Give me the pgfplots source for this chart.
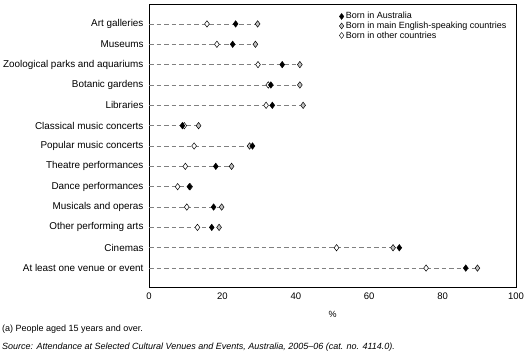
\documentclass[border=0pt]{standalone}
\usepackage{pgfplots}
\pgfplotsset{compat=1.18}
\usepackage{fontspec}
\setmainfont{Liberation Sans}
\definecolor{dashgray}{RGB}{128,128,128}
\definecolor{mgray}{RGB}{192,192,192}
\begin{document}
\begin{tikzpicture}[font=\fontsize{9}{10}\selectfont]
\path[use as bounding box] (0,0) rectangle (529pt,363pt);
\begin{axis}[
  at={(149pt,76pt)}, anchor=south west,
  scale only axis, width=367pt, height=283pt,
  xmin=0, xmax=100, ymin=-0.98, ymax=12.93, y dir=reverse,
  xtick={0,20,...,100},
  ytick={0,...,12},
  yticklabels={Art galleries,Museums,Zoological parks and aquariums,Botanic gardens,Libraries,Classical music concerts,Popular music concerts,Theatre performances,Dance performances,Musicals and operas,Other performing arts,Cinemas,At least one venue or event},
  major tick length=0pt,
  yticklabel style={xshift=-2pt, font=\fontsize{9.9}{11}\selectfont},
  xticklabel style={yshift=-2pt, font=\fontsize{9.5}{11}\selectfont},
  /pgf/number format/assume math mode=true,
  xlabel={\%}, xlabel style={yshift=-5pt},
  axis line style={line width=0.8pt},
  legend style={draw=none, fill=none, at={(0.51,0.985)}, anchor=north west,
    row sep=-2.5pt, font=\fontsize{9}{10}\selectfont,
    legend cell align=left},
  legend image code/.code={\draw[#1] plot coordinates {(0.15cm,0cm)};},
  mark size=3.2pt,
]
\addplot[xcomb, dashgray, dash pattern=on 4.5pt off 3pt, line width=0.6pt, forget plot] coordinates {
(29.6,0) (29.0,1) (41.1,2) (41.1,3) (42.0,4) (13.5,5) (28.2,6) (22.5,7) (11.2,8) (19.8,9) (19.1,10) (68.2,11) (89.5,12)};
\addplot[only marks, mark=diamond*, draw=black, fill=mgray, line width=0.5pt, mark options={solid}, forget plot] coordinates {
(29.6,0) (29.0,1) (41.1,2) (41.1,3) (42.0,4) (13.5,5) (27.4,6) (22.5,7) (11.2,8) (19.8,9) (19.1,10) (66.5,11) (89.5,12)};
\addplot[only marks, mark=diamond*, draw=black, fill=white, line width=0.5pt, forget plot] coordinates {
(15.8,0) (18.5,1) (29.7,2) (32.5,3) (31.9,4) (9.6,5) (12.3,6) (9.9,7) (7.8,8) (10.3,9) (13.2,10) (51.1,11) (75.5,12)};
\addplot[only marks, mark=diamond*, draw=black, fill=black, line width=0.5pt, forget plot] coordinates {
(23.6,0) (22.8,1) (36.3,2) (33.2,3) (33.6,4) (9.1,5) (28.2,6) (18.2,7) (11.0,8) (17.6,9) (17.1,10) (68.2,11) (86.3,12)};
\addlegendimage{only marks, mark=diamond*, draw=black, fill=black, mark size=3pt}
\addlegendentry{Born in Australia}
\addlegendimage{only marks, mark=diamond*, draw=black, fill=mgray, mark size=3pt}
\addlegendentry{Born in main English-speaking countries}
\addlegendimage{only marks, mark=diamond*, draw=black, fill=white, mark size=3pt}
\addlegendentry{Born in other countries}
\end{axis}
\node[anchor=west, inner sep=0pt] at (2pt,34pt) {(a) People aged 15 years and over.};
\node[anchor=west, inner sep=0pt] at (2pt,16pt) {\itshape Source: Attendance at Selected Cultural Venues and Events, Australia, 2005--06 (cat. no. 4114.0).};
\end{tikzpicture}
\end{document}
